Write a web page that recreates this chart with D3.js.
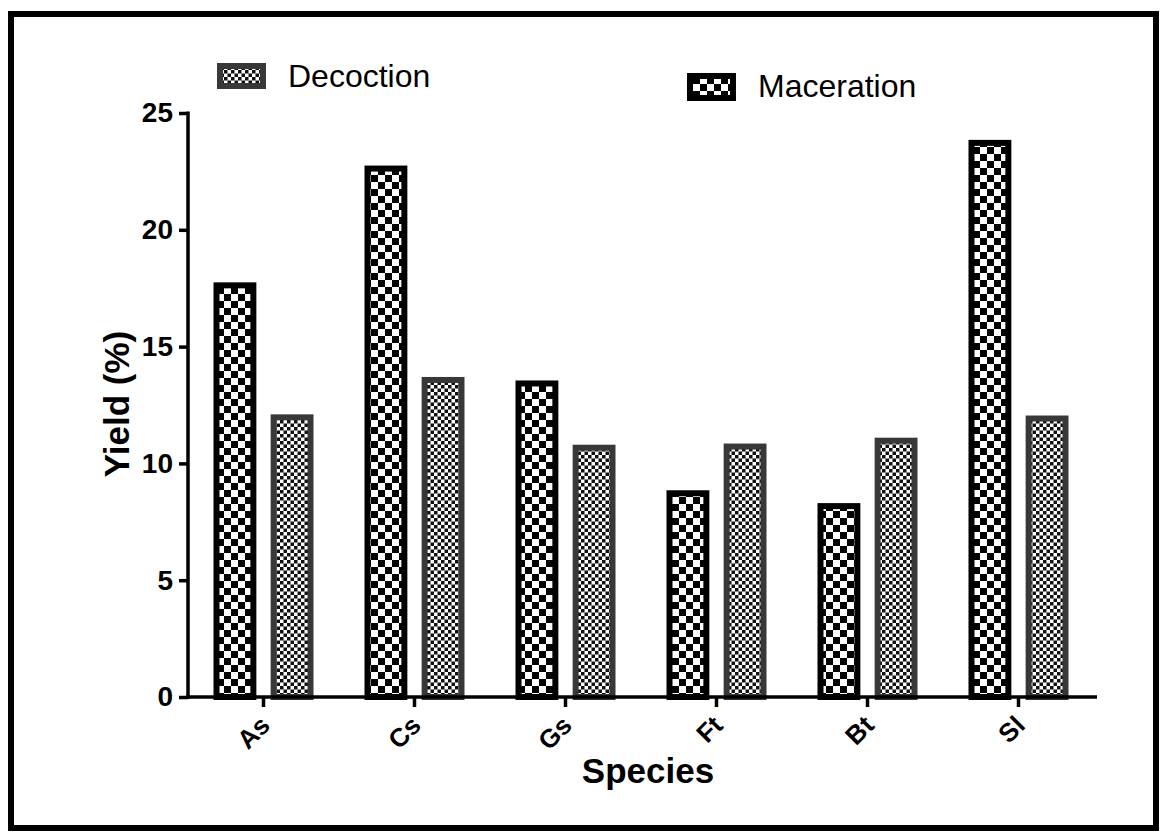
<!DOCTYPE html>
<html>
<head>
<meta charset="utf-8">
<script src="https://cdn.jsdelivr.net/npm/d3@7"></script>
<style>
  html, body { margin: 0; padding: 0; background: #fff; }
  svg { display: block; }
  text { font-family: Arial, "Liberation Sans", sans-serif; }
</style>
</head>
<body>
<script>
const categories = ["As", "Cs", "Gs", "Ft", "Bt", "Sl"];
const series = ["Maceration", "Decoction"];
const maceration = [17.75, 22.75, 13.55, 8.85, 8.3, 23.85];
const decoction = [12.1, 13.7, 10.8, 10.85, 11.1, 12.05];
const yTicks = [0, 5, 10, 15, 20, 25];

const W = 1166, H = 839;
const svg = d3.select("body").append("svg").attr("width", W).attr("height", H);
const defs = svg.append("defs");

// patterns
const pm = defs.append("pattern").attr("id", "pMac").attr("patternUnits", "userSpaceOnUse")
  .attr("width", 14).attr("height", 14);
pm.append("rect").attr("width", 14).attr("height", 14).attr("fill", "#fff");
pm.append("rect").attr("x", 0).attr("y", 0).attr("width", 7).attr("height", 7).attr("fill", "#000");
pm.append("rect").attr("x", 7).attr("y", 7).attr("width", 7).attr("height", 7).attr("fill", "#000");

const pd = defs.append("pattern").attr("id", "pDec").attr("patternUnits", "userSpaceOnUse")
  .attr("width", 7).attr("height", 7);
pd.append("rect").attr("width", 7).attr("height", 7).attr("fill", "#fff");
pd.append("rect").attr("x", 0).attr("y", 0).attr("width", 3.5).attr("height", 3.5).attr("fill", "#111");
pd.append("rect").attr("x", 3.5).attr("y", 3.5).attr("width", 3.5).attr("height", 3.5).attr("fill", "#111");

const style = {
  Maceration: { fill: "url(#pMac)", stroke: "#000" },
  Decoction: { fill: "url(#pDec)", stroke: "#383838" }
};

// frame
svg.append("rect").attr("x", 11).attr("y", 14).attr("width", 1145).attr("height", 814)
  .attr("fill", "none").attr("stroke", "#000").attr("stroke-width", 6);

const x0 = 188, yBase = 697, yTop = 113;
const x = d3.scaleBand().domain(categories).range([x0, 1094]);
const x1 = d3.scaleBand().domain(series).range([-50, 50]).paddingInner(0.25);
const y = d3.scaleLinear().domain([0, 25]).range([yBase, yTop]);

const data = categories.map((c, i) => ({ c, Maceration: maceration[i], Decoction: decoction[i] }));

// bars
const sw = 6;
const g = svg.append("g");
data.forEach(d => {
  const cx = x(d.c) + x.bandwidth() / 2;
  series.forEach(s => {
    const bx = cx + x1(s);
    const bw = x1.bandwidth();
    const top = y(d[s]);
    g.append("rect")
      .attr("x", bx + sw / 2).attr("y", top + sw / 2)
      .attr("width", bw - sw).attr("height", yBase - top - sw / 2)
      .attr("fill", style[s].fill).attr("stroke", style[s].stroke).attr("stroke-width", sw);
  });
});

// y axis
const yAxis = d3.axisLeft(y).tickValues(yTicks).tickSize(9).tickSizeOuter(0).tickPadding(6);
const ya = svg.append("g").attr("transform", `translate(${x0},0)`).call(yAxis);
ya.select(".domain").attr("stroke", "#000").attr("stroke-width", 3.5)
  .attr("d", `M0,${yTop - 1.5}V${yBase + 2}`);
ya.selectAll(".tick line").attr("stroke", "#000").attr("stroke-width", 3.5);
ya.selectAll(".tick text").attr("font-size", 28).attr("font-weight", "bold")
  .attr("fill", "#000").style("font-family", "Arial, 'Liberation Sans', sans-serif");

// x axis
const xAxis = d3.axisBottom(x).tickSize(10).tickSizeOuter(0);
const xa = svg.append("g").attr("transform", `translate(0,${yBase})`).call(xAxis);
xa.select(".domain").attr("stroke", "#000").attr("stroke-width", 3.5)
  .attr("d", `M${x0 - 1.5},0H1097`);
xa.selectAll(".tick line").attr("stroke", "#000").attr("stroke-width", 3.5);
xa.selectAll(".tick text")
  .attr("font-size", 26).attr("font-weight", "bold").attr("fill", "#000")
  .style("font-family", "Arial, 'Liberation Sans', sans-serif")
  .attr("text-anchor", "end").attr("dy", null).attr("y", null)
  .attr("transform", "translate(8,30) rotate(-45)");

// axis titles
svg.append("text").attr("x", 648).attr("y", 783).attr("text-anchor", "middle")
  .attr("font-size", 35).attr("font-weight", "bold").text("Species");
svg.append("text").attr("transform", "translate(129,404) rotate(-90)").attr("text-anchor", "middle")
  .attr("font-size", 35).attr("font-weight", "bold").text("Yield (%)");

// legend
const legend = [
  { s: "Decoction", sx: 217, sy: 63, sh: 26, tx: 288, ty: 87 },
  { s: "Maceration", sx: 687, sy: 73, sh: 28, tx: 758, ty: 97 }
];
legend.forEach(l => {
  svg.append("rect").attr("x", l.sx + 3).attr("y", l.sy + 3).attr("width", 43).attr("height", l.sh - 6)
    .attr("fill", style[l.s].fill).attr("stroke", style[l.s].stroke).attr("stroke-width", 6);
  svg.append("text").attr("x", l.tx).attr("y", l.ty).attr("font-size", 32).attr("fill", "#000").text(l.s);
});
</script>
</body>
</html>
